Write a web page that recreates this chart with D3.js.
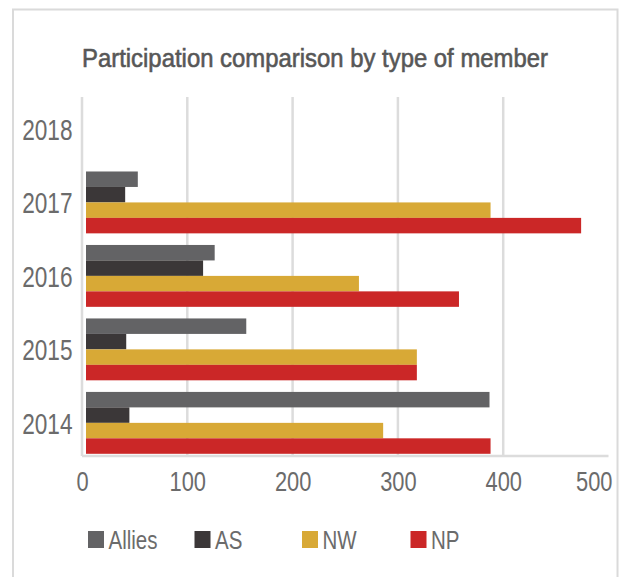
<!DOCTYPE html>
<html>
<head>
<meta charset="utf-8">
<script src="https://cdn.jsdelivr.net/npm/d3@7"></script>
<style>
  body { margin: 0; background: #fff; }
  text { font-family: "Liberation Sans", Arial, sans-serif; }
</style>
</head>
<body>
<script>
// data
var years = ["2018", "2017", "2016", "2015", "2014"];
var seriesNames = ["Allies", "AS", "NW", "NP"];
var allies = [null, 53, 126, 156, 387];
var as = [null, 41, 115, 42, 45];
var nw = [null, 388, 263, 318, 286];
var np = [null, 474, 358, 318, 388];
var xTicks = [0, 100, 200, 300, 400, 500];

var colors = ["#636365", "#3b3738", "#d8a936", "#cb2727"];

var W = 622, H = 577;

var svg = d3.select("body")
    .append("svg")
    .attr("width", W)
    .attr("height", H);

// squeeze text horizontally, the original font is a narrow one
function condense(sel, f) {
    sel.each(function() {
        var len = this.getComputedTextLength();
        d3.select(this)
            .attr("textLength", len * f)
            .attr("lengthAdjust", "spacingAndGlyphs");
    });
}

// outer frame (runs off the bottom)
svg.append("rect")
    .attr("x", 13)
    .attr("y", 9.5)
    .attr("width", 604.5)
    .attr("height", 600)
    .attr("fill", "none")
    .attr("stroke", "#dadada")
    .attr("stroke-width", 2);

// title
svg.append("text")
    .attr("x", 315)
    .attr("y", 67)
    .attr("text-anchor", "middle")
    .attr("fill", "#575757")
    .attr("stroke", "#575757")
    .attr("stroke-width", 0.6)
    .attr("font-size", 26.5)
    .attr("textLength", 466)
    .attr("lengthAdjust", "spacingAndGlyphs")
    .text("Participation comparison by type of member");

// scales
var xScale = d3.scaleLinear()
    .domain([0, 500])
    .range([82, 608.5]);

var yScale = d3.scaleBand()
    .domain(years)
    .range([92.2, 459.6])
    .paddingInner(0.158)
    .paddingOuter(0.079);

var ySub = d3.scaleBand()
    .domain(seriesNames)
    .range([0, yScale.bandwidth()]);

var gridTop = 97, axisY = 456;

// vertical gridlines (no line at 500)
svg.append("g")
    .selectAll("line")
    .data(xTicks.filter(function(d) { return d < 500; }))
    .enter()
    .append("line")
    .attr("x1", function(d) { return xScale(d); })
    .attr("x2", function(d) { return xScale(d); })
    .attr("y1", gridTop)
    .attr("y2", axisY)
    .attr("stroke", "#dcdcdc")
    .attr("stroke-width", 2.5);

// bottom axis line
svg.append("line")
    .attr("x1", xScale(0))
    .attr("x2", xScale(500))
    .attr("y1", axisY)
    .attr("y2", axisY)
    .attr("stroke", "#dcdcdc")
    .attr("stroke-width", 2.5);

// bars
var seriesValues = [allies, as, nw, np];
var rows = [];
years.forEach(function(yr, i) {
    seriesNames.forEach(function(s, j) {
        if (seriesValues[j][i] != null) {
            rows.push({ year: yr, series: s, value: seriesValues[j][i], color: colors[j] });
        }
    });
});

var barStart = xScale(0) + 4;

svg.append("g")
    .selectAll("rect")
    .data(rows)
    .enter()
    .append("rect")
    .attr("x", barStart)
    .attr("y", function(d) { return yScale(d.year) + ySub(d.series); })
    .attr("width", function(d) { return xScale(d.value) - barStart; })
    .attr("height", ySub.bandwidth())
    .attr("fill", function(d) { return d.color; });

// year labels
var yAxis = d3.axisLeft(yScale).tickSize(0).tickPadding(0);
var yg = svg.append("g")
    .attr("transform", "translate(72.5,0)")
    .call(yAxis);
yg.select(".domain").remove();
yg.selectAll("text")
    .attr("font-size", 29)
    .attr("font-family", null)
    .attr("fill", "#6b6b6b")
    .attr("dy", "0.37em")
    .call(condense, 0.78);

// value tick labels
var xAxis = d3.axisBottom(xScale).tickValues(xTicks).tickSize(0).tickPadding(0);
var xg = svg.append("g")
    .attr("transform", "translate(0,490.5)")
    .call(xAxis);
xg.select(".domain").remove();
xg.selectAll("text")
    .attr("font-size", 28)
    .attr("font-family", null)
    .attr("fill", "#6b6b6b")
    .attr("dy", 0)
    .call(condense, 0.78);
xg.selectAll(".tick")
    .filter(function(d) { return d === 500; })
    .select("text")
    .attr("text-anchor", "end")
    .attr("x", 612 - xScale(500));

// legend
var legendX = [88, 194.5, 302, 410.5];
var legend = svg.append("g")
    .selectAll("g")
    .data(seriesNames)
    .enter()
    .append("g")
    .attr("transform", function(d, i) { return "translate(" + legendX[i] + ",531)"; });

legend.append("rect")
    .attr("width", 16)
    .attr("height", 17)
    .attr("fill", function(d, i) { return colors[i]; });

legend.append("text")
    .attr("x", 20.5)
    .attr("y", 18)
    .attr("font-size", 25)
    .attr("fill", "#6b6b6b")
    .text(function(d) { return d; })
    .call(condense, 0.82);
</script>
</body>
</html>
